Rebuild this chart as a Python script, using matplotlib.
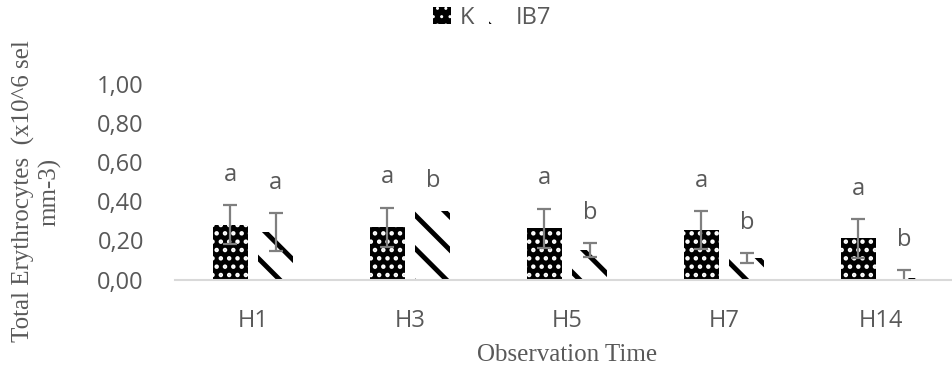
import numpy as np
import matplotlib
matplotlib.use("Agg")
import matplotlib.pyplot as plt
from matplotlib.ticker import FuncFormatter

times = ["H1", "H3", "H5", "H7", "H14"]
k_mean = [0.28, 0.267, 0.262, 0.254, 0.21]
k_sd = [0.10, 0.10, 0.10, 0.097, 0.10]
ib7_mean = [0.244, 0.35, 0.15, 0.11, 0.01]
ib7_sd = [0.097, 0.0, 0.036, 0.026, 0.039]
k_letters = ["a", "a", "a", "a", "a"]
ib7_letters = ["a", "b", "b", "b", "b"]

gray = "#595959"
W, H = 952, 371

fig = plt.figure(figsize=(W / 100, H / 100), dpi=100)
ax = fig.add_axes([174.5 / W, 1 - 279.5 / H, 785 / W, 195.5 / H])

x = np.arange(len(times))
bw = 0.223
off = 0.145

with plt.rc_context({"hatch.linewidth": 2.0}):
    kb = ax.bar(x - off, k_mean, bw, color="black", edgecolor="white",
                hatch="..", linewidth=0, label="K")
with plt.rc_context({"hatch.linewidth": 3.5}):
    ib = ax.bar(x + off, ib7_mean, bw, color="white", edgecolor="black",
                hatch="\\", linewidth=0, label="IB7")

# error bars (skip zero ones)
for xs, m, s in [(x - off, k_mean, k_sd), (x + off, ib7_mean, ib7_sd)]:
    m = np.array(m); s = np.array(s)
    ok = s > 0
    ax.errorbar(xs[ok], m[ok], yerr=s[ok], fmt="none", ecolor="#7f7f7f",
                elinewidth=1.6, capsize=5, capthick=1.6)

# significance letters
for xs, m, s, lab in [(x - off, k_mean, k_sd, k_letters),
                      (x + off, ib7_mean, ib7_sd, ib7_letters)]:
    for xi, mi, si, li in zip(xs, m, s, lab):
        ax.text(xi, mi + si + 0.155, li, ha="center", va="center",
                fontsize=17, color=gray, family="Open Sans")

ax.set_xlim(-0.5, 4.5)
ax.set_ylim(0, 1.0)
ax.set_yticks(np.arange(0, 1.01, 0.2))
ax.yaxis.set_major_formatter(FuncFormatter(lambda v, p: f"{v:.2f}".replace(".", ",")))
ax.set_xticks(x)
ax.set_xticklabels(times)
for sp in ["top", "right", "left"]:
    ax.spines[sp].set_visible(False)
ax.spines["bottom"].set_color("#d9d9d9")
ax.spines["bottom"].set_linewidth(1.5)
ax.tick_params(length=0, labelsize=17, labelcolor=gray)
ax.tick_params(axis="y", pad=22)
ax.tick_params(axis="x", pad=21)
for t in ax.get_xticklabels() + ax.get_yticklabels():
    t.set_family("Open Sans")

ax.set_xlabel("Observation Time", family="Liberation Serif", fontsize=18,
              color=gray, va="center")
ax.xaxis.set_label_coords(0.5, -75.5 / 195.5)
ax.set_ylabel("Total Erythrocytes  (x10^6 sel\nmm-3)", family="Liberation Serif",
              fontsize=18, color=gray, va="center", ha="center", linespacing=1.2)
ax.yaxis.set_label_coords(-138 / 785, 0.45)

leg = fig.legend(handles=[kb, ib], labels=["K", "IB7"], loc="center",
                 bbox_to_anchor=(492 / W, 1 - 18 / H), ncol=2, frameon=False,
                 handlelength=0.75, handleheight=0.75, handletextpad=0.4,
                 columnspacing=0.6, prop={"family": "Open Sans", "size": 17})
for t in leg.get_texts():
    t.set_color(gray)

fig.savefig("out.png", dpi=100)
